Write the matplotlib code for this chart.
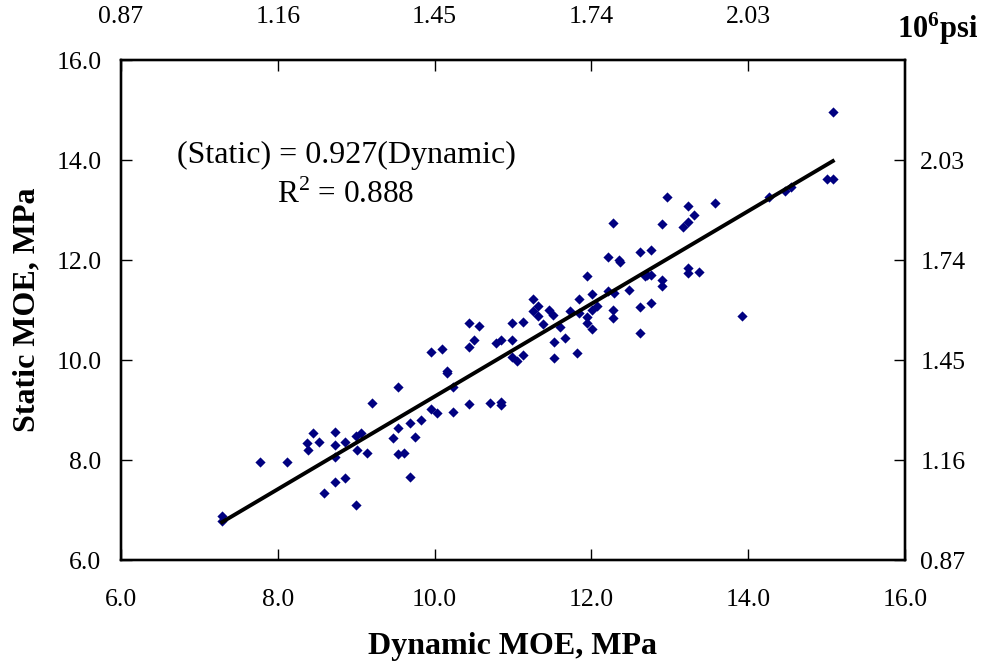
import matplotlib.pyplot as plt
import numpy as np

plt.rcParams.update({
    'font.family': 'Liberation Serif',
    'font.size': 18.5,
    'axes.linewidth': 1.6,
    'mathtext.fontset': 'custom',
    'mathtext.rm': 'Liberation Serif',
    'mathtext.bf': 'Liberation Serif:bold',
})

# dynamic vs static MOE (MPa)
dynamic = [7.29, 7.29, 7.77, 8.12, 8.45, 8.37, 8.38, 8.52, 8.73, 8.73,
           8.73, 8.86, 9.00, 9.06, 9.01, 9.14, 9.20, 8.73, 8.86, 8.59,
           9.00, 9.53, 9.47, 9.53, 9.53, 9.61, 10.23, 9.69, 9.83, 9.75,
           9.69, 9.95, 10.03, 10.23, 10.44, 10.71, 10.85, 10.85, 9.95, 10.09,
           10.16, 10.16, 10.44, 10.57, 10.50, 10.44, 10.78, 10.85, 10.99, 10.99,
           11.13, 10.99, 11.05, 11.13, 11.26, 11.32, 11.26, 11.32, 11.46, 11.51,
           11.38, 11.60, 11.52, 11.52, 11.66, 11.73, 11.82, 11.84, 11.84, 12.96,
           13.23, 13.58, 12.28, 12.90, 13.31, 13.23, 13.17, 12.62, 12.76, 12.21,
           12.35, 12.37, 11.94, 12.68, 12.71, 12.76, 12.90, 12.90, 13.23, 13.23,
           13.37, 12.48, 12.21, 12.29, 12.01, 11.94, 11.94, 12.01, 12.07, 12.01,
           12.28, 12.28, 12.62, 12.76, 12.62, 13.92, 15.08, 15.00, 15.08, 14.27,
           14.47, 14.55]
static = [6.88, 6.78, 7.96, 7.96, 8.54, 8.34, 8.20, 8.36, 8.56, 8.30,
          8.06, 8.36, 8.48, 8.54, 8.20, 8.14, 9.14, 7.56, 7.64, 7.34,
          7.10, 9.46, 8.44, 8.64, 8.12, 8.14, 9.46, 8.74, 8.80, 8.46,
          7.66, 9.02, 8.94, 8.96, 9.12, 9.14, 9.16, 9.10, 10.16, 10.22,
          9.78, 9.74, 10.74, 10.68, 10.40, 10.26, 10.34, 10.40, 10.40, 10.74,
          10.76, 10.06, 9.98, 10.10, 11.22, 11.08, 10.98, 10.88, 11.00, 10.90,
          10.72, 10.66, 10.36, 10.04, 10.44, 10.98, 10.14, 11.22, 10.94, 13.26,
          13.08, 13.14, 12.74, 12.72, 12.90, 12.76, 12.66, 12.16, 12.20, 12.06,
          12.00, 11.96, 11.68, 11.68, 11.70, 11.70, 11.60, 11.48, 11.84, 11.74,
          11.76, 11.40, 11.38, 11.34, 11.32, 10.86, 10.74, 11.00, 11.08, 10.62,
          11.00, 10.84, 11.06, 11.14, 10.54, 10.88, 14.96, 13.62, 13.62, 13.26,
          13.38, 13.46]

slope = 0.927
r2 = 0.888

mpa_ticks = [6, 8, 10, 12, 14, 16]
psi_labels = ['0.87', '1.16', '1.45', '1.74', '2.03']

fig = plt.figure(figsize=(9.81, 6.64), dpi=100)
ax = fig.add_axes([0.1233, 0.1566, 0.7992, 0.753])

ax.scatter(dynamic, static, marker='D', s=27, color='#000080', linewidths=0, zorder=3)

x_fit = np.array([min(dynamic), max(dynamic)])
ax.plot(x_fit, slope * x_fit, color='black', lw=2.8, zorder=4)

ax.set_xlim(6, 16)
ax.set_ylim(6, 16)
ax.set_xticks(mpa_ticks)
ax.set_yticks(mpa_ticks)
ax.set_xticklabels([f'{t:.1f}' for t in mpa_ticks])
ax.set_yticklabels([f'{t:.1f}' for t in mpa_ticks])
ax.tick_params(axis='x', direction='in', length=8, width=1, pad=21)
ax.tick_params(axis='y', direction='in', length=8, width=1, pad=14)

ax.set_xlabel('Dynamic MOE, MPa', fontsize=23, fontweight='bold', labelpad=15)
ax.set_ylabel('Static MOE, MPa', fontsize=23, fontweight='bold', labelpad=11)

# secondary axes in 10^6 psi
ax_top = ax.twiny()
ax_top.set_xlim(6, 16)
ax_top.set_xticks(mpa_ticks[:-1])
ax_top.set_xticklabels(psi_labels)
ax_top.tick_params(axis='x', direction='in', length=8, width=1, pad=23)

ax_right = ax.twinx()
ax_right.set_ylim(6, 16)
ax_right.set_yticks(mpa_ticks[:-1])
ax_right.set_yticklabels(psi_labels)
ax_right.tick_params(axis='y', direction='in', length=8, width=1, pad=11)

ax.text(0.99, 1.063, r'$\mathbf{10^6}$psi', transform=ax.transAxes,
        fontsize=22, fontweight='bold', ha='left', va='center')

ax.text(8.87, 14.1, f'(Static) = {slope}(Dynamic)', fontsize=23, ha='center', va='center')
ax.text(8.87, 13.3, f'R$^2$ = {r2}', fontsize=22.5, ha='center', va='center')

plt.savefig('out.png', dpi=100)
